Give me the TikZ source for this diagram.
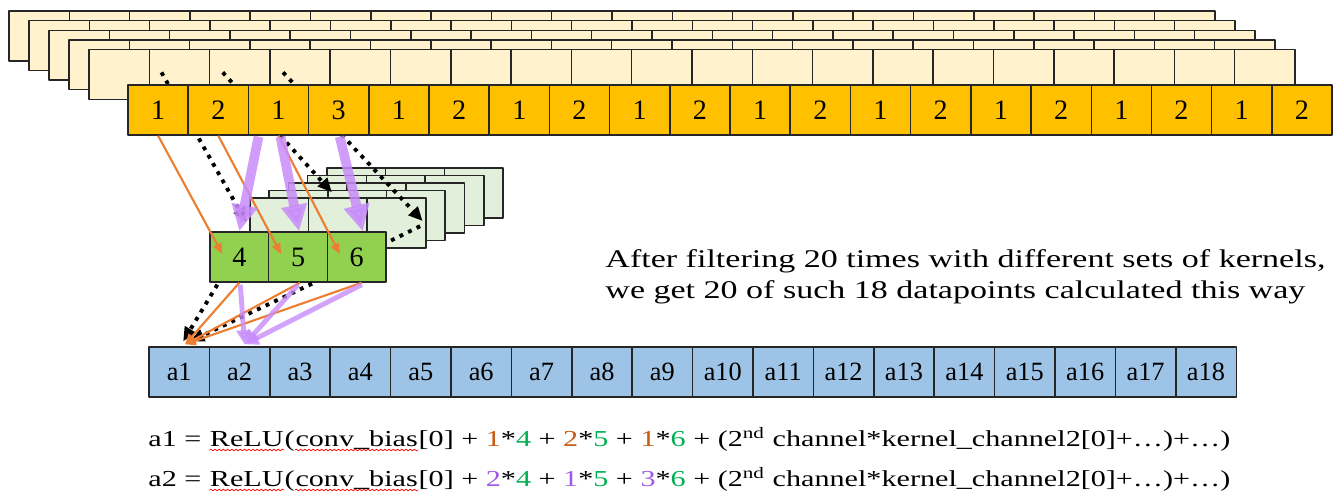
\documentclass[tikz,border=0pt]{standalone}
\usepackage{fontspec}
\setmainfont{Liberation Serif}
\usetikzlibrary{arrows.meta,calc,decorations.pathmorphing}

\definecolor{orangecell}{HTML}{FFC000}
\definecolor{palecell}{HTML}{FFF2CC}
\definecolor{greencell}{HTML}{92D050}
\definecolor{palegreen}{HTML}{E2EFDA}
\definecolor{bluecell}{HTML}{9DC3E6}
\definecolor{arroworange}{HTML}{ED7D31}
\definecolor{arrowpurple}{RGB}{200,140,250}
\definecolor{numorange}{HTML}{C55A11}
\definecolor{numgreen}{HTML}{00B050}
\definecolor{numpurple}{RGB}{160,90,235}

\begin{document}
\begin{tikzpicture}[x=0.02cm, y=-0.02cm, line join=round,
  cell/.style={draw=black!85, line width=0.8pt, inner sep=0pt,
    minimum width=1.204cm, minimum height=1cm, font=\fontsize{16}{18}\selectfont},
  palebox/.style={cell, fill=palecell},
  topbox/.style={cell, fill=orangecell},
  shadebox/.style={cell, fill=palegreen, minimum width=1.174cm},
  kernbox/.style={cell, fill=greencell, minimum width=1.174cm},
  outbox/.style={cell, fill=bluecell, minimum width=1.208cm, font=\fontsize{15}{17}\selectfont},
  dotarrow/.style={line width=2.2pt, dash pattern=on 2.2pt off 3.2pt,
    -{Triangle[length=8pt,width=7pt]}},
  orangearrow/.style={draw=arroworange, line width=1.2pt,
    -{Triangle[length=6pt,width=5pt]}},
  purplearrow/.style={draw=arrowpurple, draw opacity=0.85, fill opacity=0.85,
    line width=5.5pt, -{Triangle[length=15pt,width=14pt]}},
  purplethin/.style={draw=arrowpurple, draw opacity=0.8, fill opacity=0.8,
    line width=2.8pt, -{Triangle[length=8pt,width=8pt]}},
  stretched/.style={xscale=#1, transform shape},
  note/.style={inner sep=0pt, anchor=base west, font=\fontsize{14.5}{16}\selectfont,
    stretched=1.335},
  word/.style={inner sep=0pt, anchor=base west, font=\fontsize{13}{15}\selectfont,
    stretched=1.32},
  spell/.style={draw=red, line width=0.4pt, decorate,
    decoration={snake, amplitude=0.5pt, segment length=2.4pt}},
]
  \useasboundingbox (0,0) rectangle (1343,497);

  % the stacked channels behind the input row
  \foreach \k in {0,...,4} {
    \foreach \i in {1,...,20}
      \node[palebox] (y\k-\i) at ({9+20*\k+60.3*(\i-0.5)}, {36+9.6*\k}) {};
  }
  % the kernels of the other channels
  \foreach \m in {0,...,4} {
    \foreach \i in {1,2,3}
      \node[shadebox] (p\m-\i) at ({327-19.3*\m+58.7*(\i-0.5)}, {193+7.5*\m}) {};
  }
  % dotted paths from the hidden channel
  \draw[dotarrow] ($(y4-2)+(-18,-2)$) -- ($(p4-1.west)+(-3,-1)$);
  \draw[dotarrow] ($(y4-3)+(-17,-2)$) -- ($(p4-2.north)+(-6,-5)$);
  \draw[dotarrow] ($(y4-4)+(-17,-2)$) -- ($(p4-3.east)+(-4,-2)$);
  \draw[line width=2.2pt, dash pattern=on 2.2pt off 3.2pt]
    ($(p4-3.south east)+(-44,-4)$) -- ($(p4-3.east)+(-2,1)$);

  % the input row
  \foreach \v [count=\i] in {1,2,1,3,1,2,1,2,1,2,1,2,1,2,1,2,1,2,1,2}
    \node[topbox] (o\i) at ({128+60.2*(\i-0.5)}, 110) {\v};

  % the kernel
  \foreach \v [count=\i] in {4,5,6}
    \node[kernbox] (g\i) at ({210+58.7*(\i-0.5)}, 257) {\v};

  % the output row
  \foreach \i in {1,...,18}
    \node[outbox] (b\i) at ({149+60.4*(\i-0.5)}, 372) {a\i};

  % input times kernel
  \foreach \i in {1,2,3}
    \draw[orangearrow] (o\i.south) -- ($(g\i)+(-17,-3)$);
  \draw[purplearrow] ($(o3.south)+(-20,1)$) -- (g1.north);
  \draw[purplearrow] ($(o3.south)+(2,1)$) -- ($(g2.north)+(1,0)$);
  \draw[purplearrow] ($(o4.south)+(1,1)$) -- ($(g3.north)+(6,0)$);

  % summed into the outputs
  \draw[dotarrow] ($(g1.south)+(-22,2)$) -- ($(b1.north)+(4,-5)$);
  \draw[dotarrow] ($(g2.south)+(14,1)$) -- ($(b1.north)+(11,-5)$);
  \foreach \i/\dx in {1/0,2/2,3/5}
    \draw[orangearrow] ($(g\i.south)+(\dx,0)$) -- ($(b1.north)+(6,-2)$);
  \foreach \i/\dx in {1/1,2/0,3/5}
    \draw[purplethin] ($(g\i.south)+(\dx,2)$) -- ($(b2.north)+(5,-2)$);

  % explanation
  \coordinate (notestart) at (605,267);
  \node[note] (note1) at (notestart)
    {After filtering 20 times with different sets of kernels,};
  \node[note] (note2) at ($(notestart)+(0,31)$)
    {we get 20 of such 18 datapoints calculated this way};

  % the two sums, word by word so the marked words can be underlined
  \coordinate (eq1) at (148,446);
  \coordinate (eq2) at (148,486);
  \node[word] (eq1a) at (eq1) {a1 =\kern0.25em};
  \node[word] (eq1b) at (eq1a.base east) {ReLU};
  \node[word] (eq1c) at (eq1b.base east) {(};
  \node[word] (eq1d) at (eq1c.base east) {conv\_bias};
  \node[word] (eq1e) at (eq1d.base east)
    {[0] + \textcolor{numorange}{1}*\textcolor{numgreen}{4}
     + \textcolor{numorange}{2}*\textcolor{numgreen}{5} + \textcolor{numorange}{1}*\textcolor{numgreen}{6}
     + (2\textsuperscript{nd} channel*kernel\_channel2[0]+\dots)+\dots)};
  \node[word] (eq2a) at (eq2) {a2 =\kern0.25em};
  \node[word] (eq2b) at (eq2a.base east) {ReLU};
  \node[word] (eq2c) at (eq2b.base east) {(};
  \node[word] (eq2d) at (eq2c.base east) {conv\_bias};
  \node[word] (eq2e) at (eq2d.base east)
    {[0] + \textcolor{numpurple}{2}*\textcolor{numgreen}{4}
     + \textcolor{numpurple}{1}*\textcolor{numgreen}{5} + \textcolor{numpurple}{3}*\textcolor{numgreen}{6}
     + (2\textsuperscript{nd} channel*kernel\_channel2[0]+\dots)+\dots)};
  \foreach \w in {eq1b,eq1d,eq2b,eq2d}
    \draw[spell] ($(\w.base west)+(0,4)$) -- ($(\w.base east)+(0,4)$);
\end{tikzpicture}
\end{document}
